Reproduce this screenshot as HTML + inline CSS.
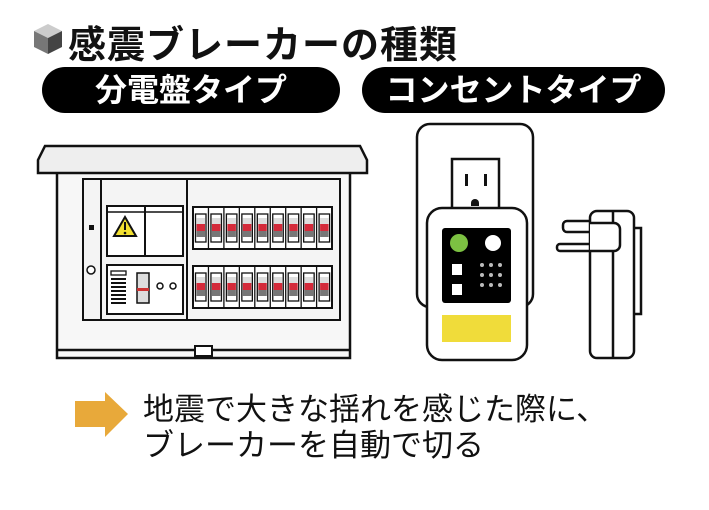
<!DOCTYPE html>
<html><head><meta charset="utf-8"><style>
body{margin:0;width:709px;height:510px;background:#fff;overflow:hidden;position:relative;font-family:"Liberation Sans","Noto Sans CJK JP",sans-serif}
.t{position:absolute;white-space:nowrap}
</style></head><body>
<svg width="709" height="510" style="position:absolute;left:0;top:0">
<!-- cube icon -->
<polygon points="48,24 62,31 48,38 34,31" fill="#ccc"/>
<polygon points="34,31 48,38 48,54 34,47" fill="#777"/>
<polygon points="62,31 48,38 48,54 62,47" fill="#444"/>
<!-- pills -->
<rect x="42" y="67" width="298" height="46" rx="23" fill="#000"/>
<rect x="362" y="67" width="303" height="46" rx="23" fill="#000"/>
<!-- panel -->
<g stroke="#111" stroke-width="2.5" fill="#f4f4f4">
<rect x="57" y="170" width="293" height="188" fill="#f7f7f7"/>
<line x1="57" y1="350" x2="350" y2="350"/>
<path d="M38,160 L45,146 L360,146 L367,160 L367,173 L38,173 Z" fill="#eee"/>
<rect x="83" y="179" width="257" height="141" fill="#f4f4f4" stroke-width="2"/>
<line x1="101" y1="179" x2="101" y2="320" stroke-width="2"/>
<line x1="187" y1="179" x2="187" y2="320" stroke-width="2"/>
<rect x="107" y="206" width="76" height="50" fill="#fff" stroke-width="2"/>
<line x1="107" y1="212" x2="183" y2="212" stroke-width="1.5"/>
<line x1="145" y1="206" x2="145" y2="256" stroke-width="2"/>
<rect x="107" y="265" width="76" height="49" fill="#fff" stroke-width="2"/>
<rect x="193" y="207" width="139" height="42" fill="#fff" stroke-width="2"/>
<rect x="193" y="266" width="139" height="42" fill="#fff" stroke-width="2"/>
<rect x="195" y="346" width="17" height="10" fill="#fff" stroke-width="2"/>
</g>
<polygon points="125,217 136,236 114,236" fill="#f2e030" stroke="#111" stroke-width="2"/>
<rect x="124" y="222" width="2" height="8" fill="#111"/><circle cx="125" cy="233" r="1.3" fill="#111"/>
<rect x="89" y="225" width="5" height="5" fill="#111"/>
<circle cx="91" cy="270" r="4" fill="#fff" stroke="#111" stroke-width="1.5"/>
<rect x="111" y="271" width="15" height="4" fill="#fff" stroke="#111" stroke-width="1.3"/>
<g fill="#111"><rect x="111" y="278" width="15" height="2"/><rect x="111" y="282" width="15" height="2"/><rect x="111" y="286" width="15" height="2"/><rect x="111" y="290" width="15" height="2"/><rect x="111" y="294" width="15" height="2"/><rect x="111" y="298" width="15" height="2"/><rect x="111" y="302" width="15" height="2"/></g>
<rect x="137" y="273" width="12" height="30" fill="#ddd" stroke="#111" stroke-width="1.5"/>
<rect x="137" y="288" width="12" height="3" fill="#c33"/>
<circle cx="160" cy="286" r="3" fill="#fff" stroke="#111" stroke-width="1.5"/>
<circle cx="173" cy="286" r="3" fill="#fff" stroke="#111" stroke-width="1.5"/>
<g id="brk">
<g stroke="#111" stroke-width="1">
</g>
</g>
<g id="rows"></g>
<!-- socket -->
<rect x="417" y="124" width="116" height="183" rx="13" fill="#fff" stroke="#111" stroke-width="2.5"/>
<rect x="452" y="159" width="47" height="55" fill="#fff" stroke="#111" stroke-width="2.5"/>
<rect x="465" y="174" width="3" height="12" fill="#111"/><rect x="484" y="174" width="3" height="12" fill="#111"/>
<path d="M471,203 a4,4 0 0 1 8,0 v3 h-8z" fill="#111"/>
<rect x="427" y="208" width="100" height="152" rx="15" fill="#fff" stroke="#111" stroke-width="2.5"/>
<rect x="442" y="228" width="69" height="75" rx="3" fill="#000"/>
<rect x="442" y="315" width="69" height="27" fill="#f0dc3a"/>
<circle cx="459" cy="243" r="9" fill="#7cc142"/>
<circle cx="493" cy="243" r="8" fill="#fff"/>
<rect x="452" y="264" width="10" height="11" fill="#fff"/><rect x="452" y="284" width="10" height="11" fill="#fff"/>
<g fill="#bbb"><circle cx="482" cy="265" r="2"/><circle cx="491" cy="265" r="2"/><circle cx="500" cy="265" r="2"/><circle cx="482" cy="275" r="2"/><circle cx="491" cy="275" r="2"/><circle cx="500" cy="275" r="2"/><circle cx="482" cy="285" r="2"/><circle cx="491" cy="285" r="2"/><circle cx="500" cy="285" r="2"/></g>
<!-- side plug -->
<g stroke="#111" stroke-width="2.5" fill="#fff">
<rect x="563" y="221" width="30" height="11" rx="4"/>
<rect x="557" y="244" width="36" height="7" rx="3"/>
<path d="M633,228 h8 v86 h-8"/>
<rect x="590" y="211" width="44" height="147" rx="7"/>
<line x1="613" y1="212" x2="613" y2="357"/>
<path d="M590,223 h24 a6,6 0 0 1 6,6 v16 a6,6 0 0 1 -6,6 h-24"/>
</g>
<!-- arrow -->
<polygon points="75,401 105,401 105,392 128,414 105,437 105,427 75,427" fill="#e8a93a"/>
</svg>
<script>
var s='';
[207,266].forEach(function(y){for(var i=0;i<9;i++){var x=193+i*15.45;
s+='<rect x="'+(x+2.5)+'" y="'+(y+7)+'" width="10.5" height="28" fill="#fff" stroke="#111" stroke-width="1.3"/>'+
'<rect x="'+(x+3.5)+'" y="'+(y+11)+'" width="8.5" height="6" fill="#ddd"/>'+
'<rect x="'+(x+3.5)+'" y="'+(y+17)+'" width="8.5" height="7" fill="#d42a3a"/>'+
'<rect x="'+(x+3.5)+'" y="'+(y+24)+'" width="8.5" height="6" fill="#777"/>';
if(i)s+='<line x1="'+x+'" y1="'+y+'" x2="'+x+'" y2="'+(y+42)+'" stroke="#111" stroke-width="1.3"/>';}});
document.getElementById('rows').innerHTML=s;
</script>
<div class="t" style="left:68px;top:14px;font-size:38px;font-weight:bold;color:#111;letter-spacing:1px">感震ブレーカーの種類</div>
<div class="t" style="left:42px;top:70px;width:298px;text-align:center;font-size:32px;font-weight:bold;color:#fff;line-height:40px">分電盤タイプ</div>
<div class="t" style="left:362px;top:70px;width:303px;text-align:center;font-size:32px;font-weight:bold;color:#fff;line-height:40px">コンセントタイプ</div>
<div class="t" style="left:143px;top:392px;font-size:31px;line-height:36px;color:#111">地震で大きな揺れを感じた際に、<br>ブレーカーを自動で切る</div>
</body></html>
